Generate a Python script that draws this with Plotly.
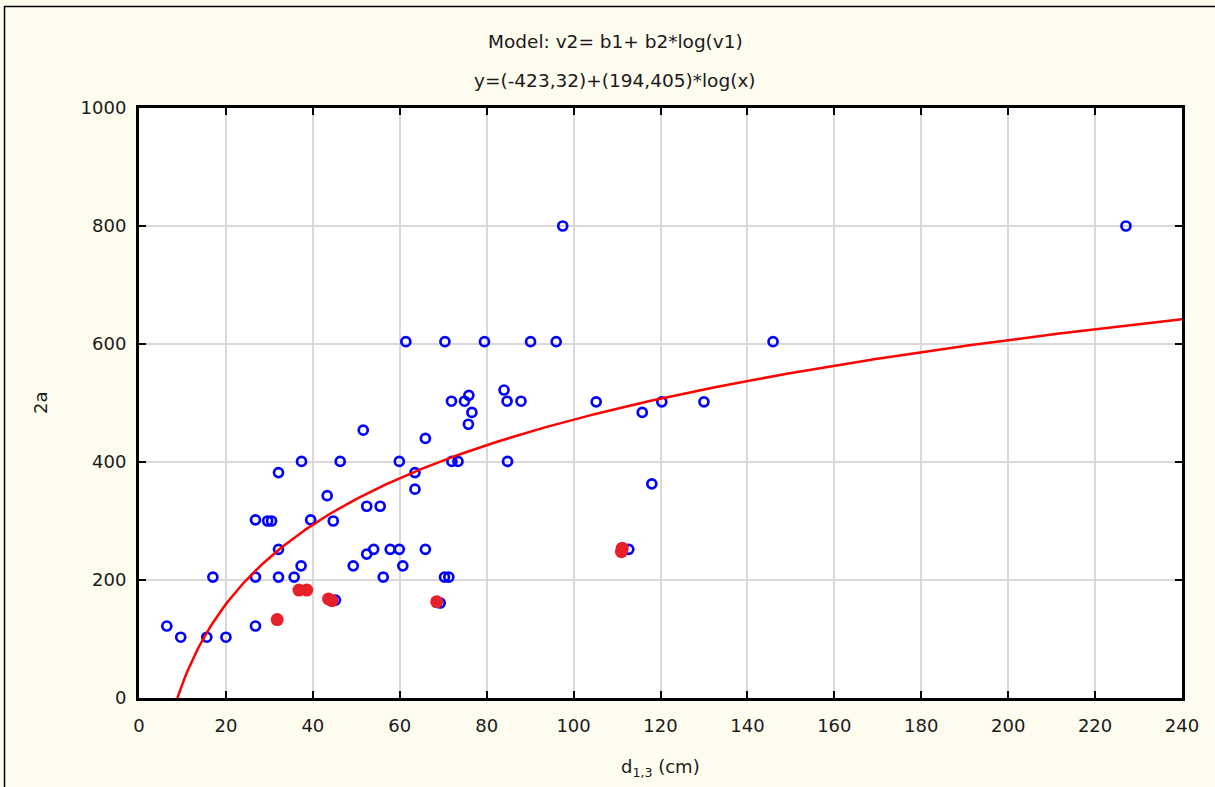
import numpy as np
import plotly.graph_objects as go

# Model coefficients (from title)
b1 = -423.32
b2 = 194.405

# Observed points (blue open circles)
blue_x = [6.4, 9.6, 15.6, 20.0, 17.0, 26.8, 26.8, 26.8, 29.6, 30.5, 32.1, 32.1, 32.1,
          37.4, 35.7, 37.3, 39.5, 43.3, 44.7, 46.3, 51.6, 49.3, 52.4, 54.0, 56.2,
          52.4, 55.5, 57.8, 59.9, 59.9, 60.7, 63.5, 63.5, 65.9, 65.9, 61.4, 70.4,
          79.5, 90.1, 96.0, 84.0, 71.9, 74.9, 75.9, 84.7, 87.9, 76.6, 75.8, 72.0,
          73.4, 84.8, 70.3, 71.3, 97.5, 105.2, 115.8, 120.3, 118.0, 130.0, 145.9,
          227.1, 112.7, 69.3, 45.2]
blue_y = [122, 103, 103, 103, 205, 122, 205, 302, 300, 300, 252, 205, 382,
          401, 205, 224, 302, 343, 300, 401, 454, 224, 244, 252, 205,
          325, 325, 252, 252, 401, 224, 382, 354, 440, 252, 604, 604,
          604, 604, 604, 522, 503, 503, 513, 503, 503, 484, 464, 401,
          401, 401, 205, 205, 800, 502, 484, 502, 363, 502, 604,
          800, 252, 161, 166]

# Highlighted points (red filled)
red_x = [31.8, 36.8, 38.6, 43.6, 44.4, 68.5, 111.2, 111.0]
red_y = [133, 183, 183, 168, 165, 163, 254, 248]

x_ticks = [0, 20, 40, 60, 80, 100, 120, 140, 160, 180, 200, 220, 240]
y_ticks = [0, 200, 400, 600, 800, 1000]

title_1 = "Model: v2= b1+ b2*log(v1)"
title_2 = "y=(-423,32)+(194,405)*log(x)"
x_title = "d<sub>1,3</sub> (cm)"
y_title = "2a"

x_start = np.exp(-b1 / b2)
xc = np.linspace(x_start, 240, 400)
yc = b1 + b2 * np.log(xc)

W, H = 1215, 787
ML, MR, MT, MB = 139, 33, 108, 89
plot_h = H - MT - MB
plot_w = W - ML - MR


def py(pix):
    return (H - MB - pix) / plot_h


def px(pix):
    return (pix - ML) / plot_w


fig = go.Figure()
fig.add_trace(go.Scatter(x=blue_x, y=blue_y, mode="markers",
                         marker=dict(symbol="circle-open", size=9, color="#0000ff",
                                     line=dict(width=2.7, color="#0000ff")),
                         showlegend=False))
fig.add_trace(go.Scatter(x=red_x, y=red_y, mode="markers",
                         marker=dict(symbol="circle", size=13, color="#e8202a"),
                         showlegend=False))
fig.add_trace(go.Scatter(x=xc, y=yc, mode="lines",
                         line=dict(color="#ff0000", width=2.5),
                         showlegend=False))

font_family = "DejaVu Sans, Verdana, sans-serif"
txt_color = "#1a1a1a"

fig.update_layout(
    width=W, height=H,
    paper_bgcolor="#fefbef",
    plot_bgcolor="#ffffff",
    margin=dict(l=ML, r=MR, t=MT, b=MB),
    font=dict(family=font_family, size=16, color=txt_color),
    annotations=[
        dict(text=title_1, x=px(615), y=py(42), xref="paper", yref="paper",
             showarrow=False, font=dict(size=18.5), xanchor="center", yanchor="middle"),
        dict(text=title_2, x=px(615), y=py(80), xref="paper", yref="paper",
             showarrow=False, font=dict(size=18.5), xanchor="center", yanchor="middle"),
        dict(text=x_title, x=px(660), y=py(768), xref="paper", yref="paper",
             showarrow=False, font=dict(size=18), xanchor="center", yanchor="middle"),
        dict(text=y_title, x=px(40), y=py(403), xref="paper", yref="paper",
             showarrow=False, font=dict(size=18), textangle=-90,
             xanchor="center", yanchor="middle"),
    ],
    shapes=[
        dict(type="rect", xref="paper", yref="paper",
             x0=px(4.5), x1=px(1217), y0=py(788), y1=py(6.5),
             line=dict(width=1.5, color="#000000"), layer="below"),
    ],
)

fig.update_xaxes(range=[0, 240], tickvals=x_ticks, ticks="inside", ticklen=7,
                 tickwidth=2, tickcolor="#000000", showline=True, linewidth=3,
                 linecolor="#000000", mirror="ticks", showgrid=True,
                 gridcolor="#d9d9d9", gridwidth=1.5, zeroline=False,
                 ticklabelstandoff=9,
                 tickfont=dict(size=18, color=txt_color))
fig.update_yaxes(range=[0, 1000], tickvals=y_ticks, ticks="inside", ticklen=7,
                 tickwidth=2, tickcolor="#000000", showline=True, linewidth=3,
                 linecolor="#000000", mirror="ticks", showgrid=True,
                 gridcolor="#d9d9d9", gridwidth=1.5, zeroline=False,
                 ticklabelstandoff=6,
                 tickfont=dict(size=18, color=txt_color))

fig.write_html("out.html")
